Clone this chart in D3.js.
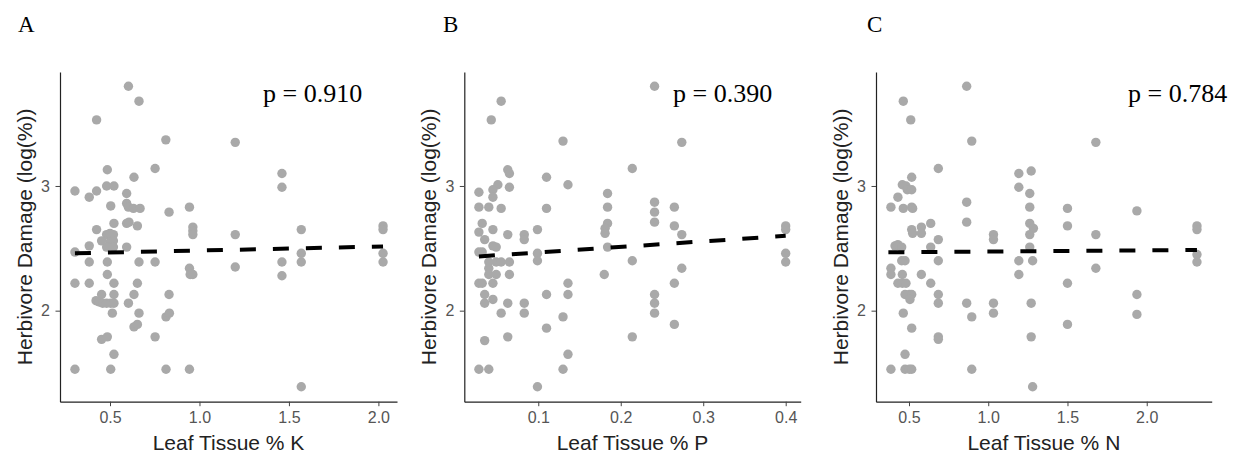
<!DOCTYPE html>
<html>
<head>
<meta charset="utf-8">
<script src="https://d3js.org/d3.v7.min.js"></script>
<style>
  body { margin: 0; background: #fff; }
  svg { display: block; }
</style>
</head>
<body>
<div id="chart"></div>
<script>
// Panel A: leaf tissue % K
const kX = [0.603,0.662,0.425,0.812,1.200,0.752,0.485,1.461,0.634,0.304,0.384,0.425,0.481,0.522,1.461,0.593,0.593,0.603,0.631,0.668,0.504,0.944,0.830,0.522,0.593,0.606,0.653,0.425,0.963,0.963,0.963,1.200,1.569,2.026,2.026,0.481,0.500,0.519,0.453,0.500,0.519,0.384,0.481,0.519,0.593,0.304,0.384,0.485,0.662,0.752,1.461,1.569,1.569,2.026,2.026,0.944,0.948,0.963,1.200,1.461,0.485,0.304,0.384,0.522,0.653,0.453,0.522,0.634,0.830,0.422,0.440,0.459,0.481,0.504,0.522,0.603,0.513,0.662,0.813,0.832,0.634,0.653,0.752,0.453,0.485,0.522,0.304,0.504,0.813,0.944,1.569];
const kY = [3.80,3.68,3.53,3.37,3.35,3.14,3.13,3.10,3.07,2.96,2.91,2.96,3.00,3.00,2.99,2.94,2.86,2.83,2.82,2.82,2.84,2.83,2.79,2.70,2.70,2.71,2.68,2.65,2.67,2.64,2.61,2.61,2.65,2.68,2.65,2.61,2.62,2.61,2.56,2.55,2.56,2.52,2.51,2.51,2.51,2.47,2.39,2.39,2.39,2.39,2.39,2.46,2.39,2.46,2.39,2.34,2.29,2.29,2.35,2.28,2.29,2.22,2.22,2.22,2.22,2.13,2.13,2.13,2.13,2.08,2.07,2.06,2.06,2.06,2.06,2.06,1.98,1.98,1.95,1.98,1.87,1.89,1.79,1.77,1.79,1.65,1.53,1.53,1.53,1.53,1.39];

// Panel B: leaf tissue % P
const pX = [0.241,0.055,0.043,0.130,0.274,0.214,0.063,0.065,0.110,0.051,0.065,0.136,0.028,0.045,0.045,0.184,0.028,0.040,0.055,0.110,0.184,0.241,0.241,0.265,0.032,0.045,0.184,0.181,0.181,0.241,0.265,0.274,0.063,0.083,0.083,0.099,0.028,0.035,0.045,0.049,0.028,0.032,0.184,0.400,0.400,0.400,0.400,0.099,0.099,0.040,0.049,0.055,0.065,0.214,0.040,0.040,0.049,0.065,0.180,0.274,0.028,0.032,0.045,0.136,0.265,0.035,0.045,0.035,0.110,0.136,0.241,0.241,0.063,0.083,0.083,0.055,0.241,0.130,0.265,0.110,0.063,0.214,0.035,0.136,0.028,0.040,0.130,0.099];
const pY = [3.80,3.68,3.53,3.36,3.35,3.14,3.13,3.10,3.07,3.01,2.99,3.01,2.95,2.97,2.91,2.94,2.83,2.83,2.82,2.82,2.83,2.87,2.79,2.83,2.70,2.65,2.70,2.66,2.62,2.71,2.68,2.61,2.61,2.61,2.57,2.65,2.63,2.57,2.52,2.51,2.47,2.47,2.51,2.68,2.65,2.46,2.39,2.46,2.40,2.39,2.39,2.39,2.39,2.40,2.34,2.29,2.29,2.29,2.29,2.34,2.22,2.22,2.22,2.22,2.22,2.13,2.09,2.06,2.13,2.13,2.13,2.06,2.06,2.06,1.98,1.98,1.98,1.95,1.89,1.86,1.79,1.79,1.76,1.65,1.53,1.53,1.53,1.39];

// Panel C: leaf tissue % N
const nX = [0.864,0.464,0.511,0.896,1.679,0.685,1.271,1.193,0.517,0.458,0.481,0.489,0.517,1.193,0.430,0.386,0.464,0.517,0.523,0.864,1.262,1.262,1.500,1.938,0.864,1.262,1.285,1.262,1.500,1.679,0.637,0.578,0.578,0.517,0.523,0.685,1.033,1.033,2.317,2.317,2.317,2.317,0.412,0.430,0.454,0.637,1.262,0.454,0.475,0.685,1.193,1.280,0.386,0.386,0.458,0.578,1.193,1.679,0.430,0.458,0.481,0.637,1.500,0.475,0.502,0.517,0.506,0.685,0.685,0.864,1.033,1.033,1.271,0.896,1.938,1.938,0.464,1.500,0.517,0.685,0.685,1.271,0.475,0.386,0.475,0.502,0.517,0.896,1.280];
const nY = [3.80,3.68,3.53,3.36,3.35,3.14,3.12,3.10,3.07,3.01,3.00,2.97,2.97,2.99,2.91,2.83,2.82,2.83,2.82,2.87,2.94,2.83,2.82,2.80,2.71,2.70,2.66,2.61,2.68,2.61,2.70,2.67,2.62,2.65,2.62,2.57,2.61,2.57,2.68,2.65,2.45,2.39,2.52,2.53,2.51,2.51,2.51,2.40,2.40,2.40,2.40,2.40,2.34,2.29,2.29,2.29,2.29,2.34,2.22,2.22,2.22,2.22,2.22,2.13,2.13,2.13,2.09,2.13,2.06,2.06,2.06,1.98,2.06,1.95,2.13,1.97,1.98,1.89,1.86,1.79,1.77,1.79,1.65,1.53,1.53,1.53,1.53,1.53,1.39];

// fitted regression lines (endpoints in data units)
const fitKX = [0.304, 2.026], fitKY = [2.46, 2.515];
const fitPX = [0.028, 0.400], fitPY = [2.435, 2.60];
const fitNX = [0.370, 2.317], fitNY = [2.468, 2.487];

const letters = ["A", "B", "C"];
const pLabels = ["p = 0.910", "p = 0.390", "p = 0.784"];
const xTitles = ["Leaf Tissue % K", "Leaf Tissue % P", "Leaf Tissue % N"];
const xTicksK = [0.5, 1.0, 1.5, 2.0];
const xTicksP = [0.1, 0.2, 0.3, 0.4];
const xTicksN = [0.5, 1.0, 1.5, 2.0];
const yTicks = [2, 3];

const W = 1242, H = 456;
const plotTop = 72, plotBottom = 401.7;
const yDomain = [1.27, 3.914];

const panels = [
  { xs: kX, ys: kY, fx: fitKX, fy: fitKY, ticks: xTicksK, fmt: d3.format(".1f"),
    left: 60, right: 397, dom: [0.2205, 2.104], lx: 18, px: 263 },
  { xs: pX, ys: pY, fx: fitPX, fy: fitPY, ticks: xTicksP, fmt: d3.format(".1f"),
    left: 464.3, right: 800.7, dom: [0.0103, 0.4182], lx: 443, px: 673 },
  { xs: nX, ys: nY, fx: fitNX, fy: fitNY, ticks: xTicksN, fmt: d3.format(".1f"),
    left: 876, right: 1211.7, dom: [0.2918, 2.41], lx: 867, px: 1128 }
];

const sans = "'Liberation Sans', Arial, sans-serif";
const serif = "'Liberation Serif', 'Times New Roman', serif";

const svg = d3.select("#chart").append("svg")
  .attr("width", W).attr("height", H);

const y = d3.scaleLinear().domain(yDomain).range([plotBottom, plotTop]);

panels.forEach((p, i) => {
  const x = d3.scaleLinear().domain(p.dom).range([p.left, p.right]);
  const g = svg.append("g");

  // points
  g.selectAll("circle")
    .data(p.xs.map((v, j) => [v, p.ys[j]]))
    .join("circle")
    .attr("cx", d => x(d[0]))
    .attr("cy", d => y(d[1]))
    .attr("r", 4.7)
    .attr("fill", "#a9a9a9");

  // dashed fit line
  g.append("line")
    .attr("x1", x(p.fx[0])).attr("y1", y(p.fy[0]))
    .attr("x2", x(p.fx[1])).attr("y2", y(p.fy[1]))
    .attr("stroke", "#000")
    .attr("stroke-width", 4)
    .attr("stroke-dasharray", "16,17");

  // axes
  const xAxis = g.append("g")
    .attr("transform", `translate(0,${plotBottom})`)
    .call(d3.axisBottom(x).tickValues(p.ticks).tickFormat(p.fmt).tickSize(4.5).tickSizeOuter(0).tickPadding(5.5));
  const yAxis = g.append("g")
    .attr("transform", `translate(${p.left},0)`)
    .call(d3.axisLeft(y).tickValues(yTicks).tickFormat(d3.format("d")).tickSize(4.5).tickSizeOuter(0).tickPadding(5.5));

  [xAxis, yAxis].forEach(a => {
    a.select(".domain").attr("stroke", "#222").attr("stroke-width", 1.2);
    a.selectAll(".tick line").attr("stroke", "#444").attr("stroke-width", 1);
    a.selectAll(".tick text")
      .attr("fill", "#555")
      .style("font-family", sans)
      .style("font-size", "16px");
  });

  // axis titles
  g.append("text")
    .attr("x", (p.left + p.right) / 2)
    .attr("y", 450)
    .attr("text-anchor", "middle")
    .style("font-family", sans)
    .style("font-size", "21px")
    .attr("fill", "#222")
    .text(xTitles[i]);

  g.append("text")
    .attr("transform", `translate(${p.left - 28},${(plotTop + plotBottom) / 2}) rotate(-90)`)
    .attr("text-anchor", "middle")
    .style("font-family", sans)
    .style("font-size", "21px")
    .attr("fill", "#222")
    .text("Herbivore Damage (log(%))");

  // panel letter and p value
  svg.append("text")
    .attr("x", p.lx).attr("y", 32)
    .style("font-family", serif)
    .style("font-size", "23px")
    .attr("fill", "#000")
    .text(letters[i]);

  svg.append("text")
    .attr("x", p.px).attr("y", 102)
    .style("font-family", serif)
    .style("font-size", "26px")
    .attr("fill", "#000")
    .text(pLabels[i]);
});
</script>
</body>
</html>
